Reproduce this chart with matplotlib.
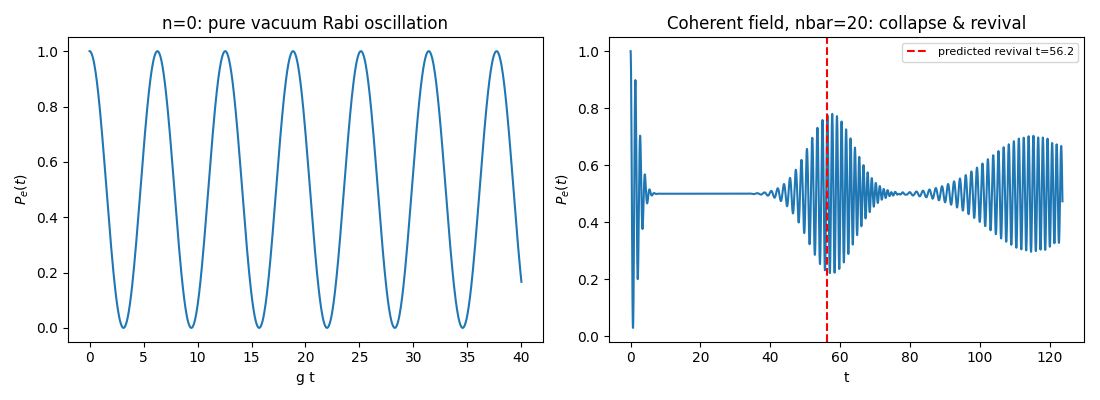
import numpy as np
import matplotlib
matplotlib.use("Agg")
import matplotlib.pyplot as plt
from math import lgamma

# Parameters (Jaynes-Cummings model)
n0 = 0                 # left panel: initial photon number
nbar = 20              # right panel: mean photon number of coherent field
t_max_left = 40.0
t_revival = 4 * np.pi * np.sqrt(nbar)   # 56.2 as shown in legend
t_max_right = 2.2 * t_revival
n_max = 80

titles = ["n=0: pure vacuum Rabi oscillation",
          "Coherent field, nbar=20: collapse & revival"]
xlabels = ["g t", "t"]
ylabel = "$P_e(t)$"
legend_label = f"predicted revival t={t_revival:.1f}"

# Left: vacuum Rabi oscillation
t1 = np.linspace(0, t_max_left, 1000)
pe1 = np.cos(np.sqrt(n0 + 1) * t1 / 2) ** 2

# Right: coherent state, Poisson weights
n = np.arange(n_max)
logp = -nbar + n * np.log(nbar) - np.array([lgamma(k + 1) for k in n])
pn = np.exp(logp)
pn /= pn.sum()
t2 = np.linspace(0, t_max_right, 3000)
pe2 = (pn[:, None] * np.cos(np.sqrt(n[:, None] + 1) * t2[None, :] / 2) ** 2).sum(axis=0)

fig, axes = plt.subplots(1, 2, figsize=(11, 4), dpi=100)
ax = axes[0]
ax.plot(t1, pe1, color="#1f77b4")
ax.set_title(titles[0])
ax.set_xlabel(xlabels[0])
ax.set_ylabel(ylabel)

ax = axes[1]
ax.plot(t2, pe2, color="#1f77b4")
ax.axvline(t_revival, color="red", linestyle="--", label=legend_label)
ax.set_title(titles[1])
ax.set_xlabel(xlabels[1])
ax.set_ylabel(ylabel)
ax.legend(loc="upper right", fontsize=8)

fig.tight_layout()
fig.subplots_adjust(left=0.0618, right=0.9855, wspace=0.139)
fig.savefig("out.png", dpi=100)
